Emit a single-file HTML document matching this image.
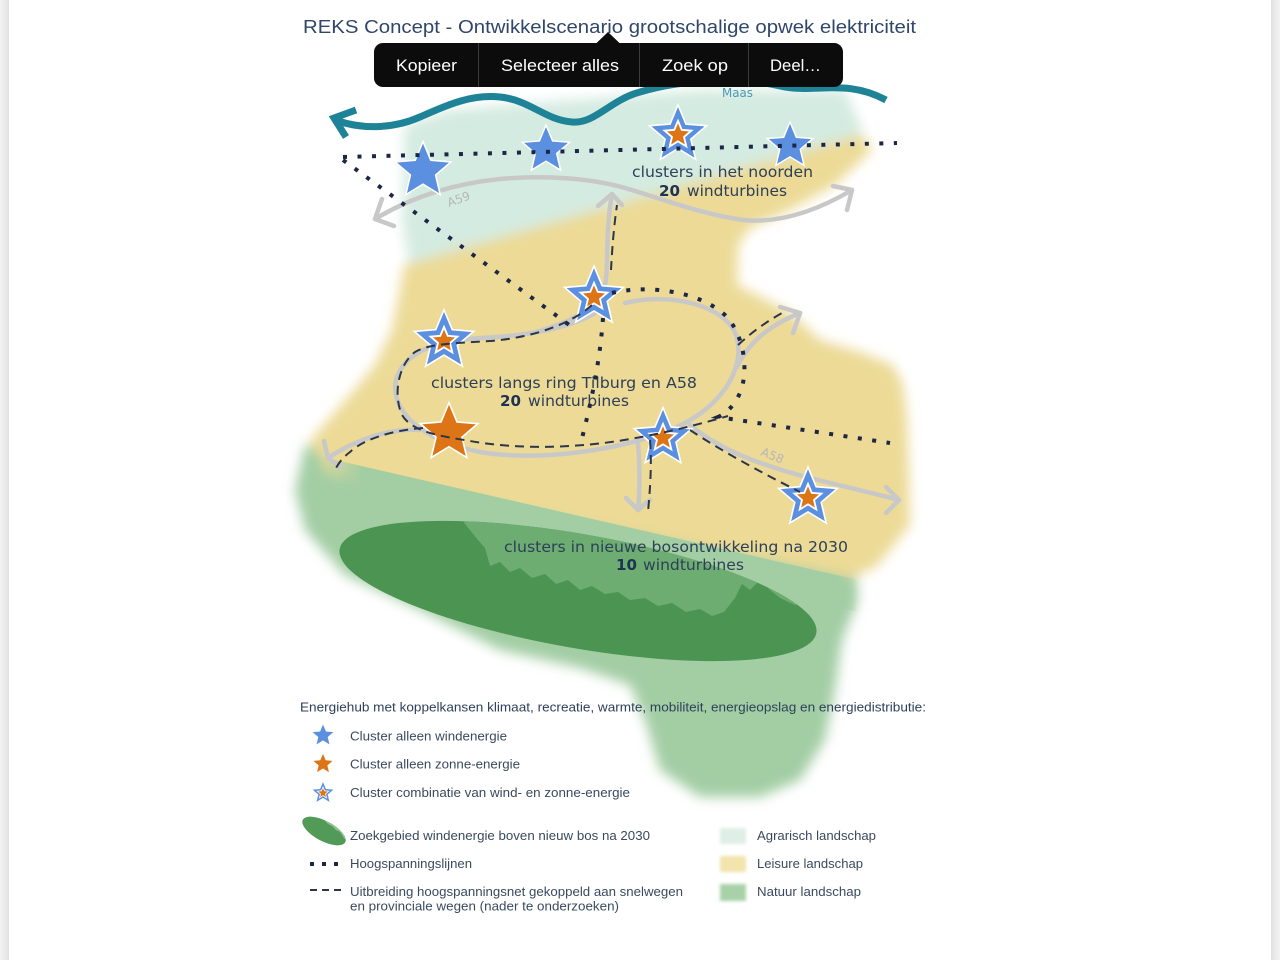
<!DOCTYPE html>
<html><head><meta charset="utf-8"><style>
html,body{margin:0;padding:0;background:#fff;width:1280px;height:960px;overflow:hidden}
svg{display:block}
</style></head><body>
<svg width="1280" height="960" viewBox="0 0 1280 960" xmlns="http://www.w3.org/2000/svg">
<defs>
<filter id="b" x="-20%" y="-20%" width="140%" height="140%"><feGaussianBlur stdDeviation="6"/></filter>
<filter id="b2" x="-30%" y="-30%" width="160%" height="160%"><feGaussianBlur stdDeviation="1.5"/></filter>
<path id="s" d="M0,-30 L7.94,-10.92 L28.53,-9.27 L12.84,4.17 L17.63,24.27 L0,13.5 L-17.63,24.27 L-12.84,4.17 L-28.53,-9.27 L-7.94,-10.92 Z"/>
<clipPath id="ec"><ellipse cx="578" cy="591" rx="242" ry="57" transform="rotate(10 578 591)"/></clipPath>
<clipPath id="lec"><ellipse cx="324" cy="831" rx="24" ry="10" transform="rotate(28 324 831)"/></clipPath>
<linearGradient id="gl" x1="0" x2="1"><stop offset="0" stop-color="#f3f3f3"/><stop offset="1" stop-color="#e2e2e2"/></linearGradient>
<linearGradient id="gr" x1="0" x2="1"><stop offset="0" stop-color="#e2e2e2"/><stop offset="1" stop-color="#f3f3f3"/></linearGradient>
<linearGradient id="gband" gradientUnits="userSpaceOnUse" x1="318" y1="0" x2="858" y2="0">
<stop offset="0" stop-color="#a3cea4" stop-opacity="0"/>
<stop offset="0.08" stop-color="#a3cea4" stop-opacity="1"/>
<stop offset="0.962" stop-color="#a3cea4" stop-opacity="1"/>
<stop offset="1" stop-color="#a3cea4" stop-opacity="0"/>
</linearGradient>
</defs>

<rect x="0" y="0" width="1280" height="960" fill="#fff"/>
<rect x="0" y="0" width="9" height="960" fill="url(#gl)"/>
<rect x="1271" y="0" width="9" height="960" fill="url(#gr)"/>

<!-- landscape regions -->
<g filter="url(#b)">
<path d="M305 445 L855 560 L858 600 L842 640 L835 690 L825 740 L800 780 L760 797 L700 797 L660 770 L645 720 L630 685 L580 668 L500 650 L420 610 L345 575 L305 530 L295 490 Z" fill="#a3cea4"/>
<path d="M405 125 L450 110 L520 104 L600 98 L700 90 L845 90 L858 120 L864 140 L410 268 L402 220 Z" fill="#d4ebe1"/>
<path d="M404 265 L862 134 L872 150 L835 185 L790 210 L750 228 L738 245 L737 285 L755 294 L790 312 L820 340 L860 352 L893 365 L903 385 L907 420 L909 480 L910 525 L876 567 L850 578 L330 474 L310 440 L330 418 L350 395 L375 365 L392 330 L398 300 Z" fill="#ecda96"/>
</g>
<path d="M318 456 L858 580 L858 612 L318 490 Z" fill="url(#gband)"/>

<!-- forest ellipse -->
<ellipse cx="578" cy="591" rx="242" ry="57" transform="rotate(10 578 591)" fill="#4c9452"/>
<g clip-path="url(#ec)">
<path d="M440 500 L462 520 L470 530 L478 540 L485 548 L490 566 L500 562 L510 572 L520 568 L532 578 L545 574 L556 584 L568 580 L580 590 L592 586 L605 594 L618 592 L630 600 L645 598 L658 606 L672 603 L686 612 L700 609 L712 616 L724 612 L735 598 L742 584 L750 590 L760 580 L770 590 L780 598 L795 605 L840 600 L840 480 L440 480 Z" fill="#6dad71"/>
</g>

<!-- gray roads -->
<g fill="none" stroke="#c8c8c8" stroke-width="4.5" stroke-linecap="round" stroke-linejoin="round">
<path d="M375 219 C410 198 450 184 500 179 C545 175 590 178 625 188 C660 198 700 214 743 220 C785 224 825 206 852 190"/>
<polyline points="382,199 375,219 394,226"/>
<polyline points="833,186 852,190 847,210"/>
<path d="M533 333 C560 325 590 315 603 292 C610 275 604 240 612 194"/>
<polyline points="598,206 612,194 622,205"/>
<path d="M600 310 C570 330 520 336 482 338 C440 340 405 350 396 380 C390 410 420 440 480 452 C540 462 620 450 670 430 C720 410 745 370 737 338 C728 305 670 292 625 303"/>
<path d="M737 367 C748 343 770 325 800 313"/>
<polyline points="780,307 800,313 793,333"/>
<path d="M419 430 C390 428 355 440 328 458"/>
<polyline points="324,441 328,458 341,467"/>
<path d="M638 443 C640 470 640 490 638 510"/>
<polyline points="626,498 638,510 650,500"/>
<path d="M690 425 C720 450 760 465 810 478 C850 488 880 495 899 500"/>
<polyline points="886,487 899,500 886,513"/>
</g>
<text x="0" y="0" transform="translate(449,207) rotate(-20)" font-family="DejaVu Sans, sans-serif" font-size="12" fill="#b7b7b7">A59</text>
<text x="0" y="0" transform="translate(760,455) rotate(22)" font-family="DejaVu Sans, sans-serif" font-size="12" fill="#b7b7b7">A58</text>

<!-- stars -->
<g stroke="#fff">
<use href="#s" transform="translate(423,171) scale(0.98)" fill="#5b8fe0" stroke-width="1.6"/>
<use href="#s" transform="translate(546,150) scale(0.83)" fill="#5b8fe0" stroke-width="1.8"/>
<use href="#s" transform="translate(790,146) scale(0.8)" fill="#5b8fe0" stroke-width="1.8"/>

<use href="#s" transform="translate(678,135) scale(1)" fill="#5b8fe0" stroke-width="1.6"/>
<use href="#s" transform="translate(678,135) scale(0.47)" fill="#dd7416" stroke-width="4"/>

<use href="#s" transform="translate(594,297) scale(1.03)" fill="#5b8fe0" stroke-width="1.6"/>
<use href="#s" transform="translate(594,297) scale(0.47)" fill="#dd7416" stroke-width="4"/>

<use href="#s" transform="translate(444,341) scale(1.04)" fill="#5b8fe0" stroke-width="1.6"/>
<use href="#s" transform="translate(444,341) scale(0.47)" fill="#dd7416" stroke-width="4"/>

<use href="#s" transform="translate(449,433) scale(1.01)" fill="#dd7416" stroke-width="1.6"/>

<use href="#s" transform="translate(663,438) scale(1.01)" fill="#5b8fe0" stroke-width="1.6"/>
<use href="#s" transform="translate(663,438) scale(0.47)" fill="#dd7416" stroke-width="4"/>

<use href="#s" transform="translate(808,498) scale(1.03)" fill="#5b8fe0" stroke-width="1.6"/>
<use href="#s" transform="translate(808,498) scale(0.47)" fill="#dd7416" stroke-width="4"/>
</g>

<!-- labels -->
<g font-family="DejaVu Sans, Verdana, sans-serif" font-size="15.5" fill="#2d4058">
<text x="632" y="177" textLength="181" lengthAdjust="spacingAndGlyphs">clusters in het noorden</text>
<text x="659" y="196" textLength="21" lengthAdjust="spacingAndGlyphs" font-weight="bold" fill="#1d3353">20</text>
<text x="687" y="196" textLength="100" lengthAdjust="spacingAndGlyphs">windturbines</text>
<text x="431" y="388" textLength="266" lengthAdjust="spacingAndGlyphs">clusters langs ring Tilburg en A58</text>
<text x="500" y="406" textLength="21" lengthAdjust="spacingAndGlyphs" font-weight="bold" fill="#1d3353">20</text>
<text x="528" y="406" textLength="101" lengthAdjust="spacingAndGlyphs">windturbines</text>
<text x="504" y="552" textLength="344" lengthAdjust="spacingAndGlyphs">clusters in nieuwe bosontwikkeling na 2030</text>
<text x="616" y="570" textLength="21" lengthAdjust="spacingAndGlyphs" font-weight="bold" fill="#1d3353">10</text>
<text x="643" y="570" textLength="101" lengthAdjust="spacingAndGlyphs">windturbines</text>
</g>

<!-- dashed lines -->
<g fill="none" stroke="#2b3748" stroke-width="2" stroke-dasharray="9 6">
<path d="M592 305 C570 325 530 338 490 341 C460 343 430 343 415 352 C398 365 393 395 402 415 C412 432 440 436 470 441 C520 450 580 448 630 439 C670 432 700 424 728 416"/>
<path d="M423 428 C395 430 365 438 350 452 C342 458 338 464 335 470"/>
<path d="M650 440 C652 465 650 490 648 512"/>
<path d="M690 430 C720 450 760 472 800 492"/>
<path d="M611 270 C612 250 614 225 617 205"/>
<path d="M738 345 C752 332 766 322 782 313"/>
</g>

<!-- dotted lines -->
<g fill="none" stroke="#1c2745" stroke-width="4" stroke-dasharray="4 10.5">
<path d="M343 157 L897 143"/>
<path d="M343 160 L572 327"/>
<path d="M603 318 C600 360 592 400 580 446"/>
<path d="M612 293 C650 284 700 292 725 315 C745 335 750 375 738 397 C732 408 725 414 718 417 L890 443"/>
</g>

<!-- river -->
<g fill="none" stroke="#1f8397" stroke-width="7">
<path d="M338 121 C365 130 395 128 420 117 C445 106 470 94 500 97 C530 100 545 120 572 122 C595 124 610 100 640 92 C680 80 740 76 780 86 C815 94 845 78 886 100"/>
<polyline points="356,110 334,118 346,137" stroke-linejoin="miter"/>
</g>
<text x="722" y="97" textLength="31" lengthAdjust="spacingAndGlyphs" font-family="DejaVu Sans, sans-serif" font-size="12.5" fill="#4a9ab2">Maas</text>

<!-- legend -->
<g font-family="Liberation Sans, Arial, sans-serif" font-size="13" fill="#3a4a5e">
<text x="300" y="711.5" textLength="626" lengthAdjust="spacingAndGlyphs" fill="#2f405a">Energiehub met koppelkansen klimaat, recreatie, warmte, mobiliteit, energieopslag en energiedistributie:</text>
<text x="350" y="740.5" textLength="157" lengthAdjust="spacingAndGlyphs">Cluster alleen windenergie</text>
<text x="350" y="768.5" textLength="170" lengthAdjust="spacingAndGlyphs">Cluster alleen zonne-energie</text>
<text x="350" y="797" textLength="280" lengthAdjust="spacingAndGlyphs">Cluster combinatie van wind- en zonne-energie</text>
<text x="350" y="840" textLength="300" lengthAdjust="spacingAndGlyphs">Zoekgebied windenergie boven nieuw bos na 2030</text>
<text x="350" y="868" textLength="122" lengthAdjust="spacingAndGlyphs">Hoogspanningslijnen</text>
<text x="350" y="896" textLength="333" lengthAdjust="spacingAndGlyphs">Uitbreiding hoogspanningsnet gekoppeld aan snelwegen</text>
<text x="350" y="910.5" textLength="269" lengthAdjust="spacingAndGlyphs">en provinciale wegen (nader te onderzoeken)</text>
<text x="757" y="840" textLength="119" lengthAdjust="spacingAndGlyphs">Agrarisch landschap</text>
<text x="757" y="868" textLength="106" lengthAdjust="spacingAndGlyphs">Leisure landschap</text>
<text x="757" y="896" textLength="104" lengthAdjust="spacingAndGlyphs">Natuur landschap</text>
</g>
<g stroke="#fff">
<use href="#s" transform="translate(323,735.5) scale(0.4)" fill="#5b8fe0" stroke-width="2"/>
<use href="#s" transform="translate(323,764) scale(0.37)" fill="#dd7416" stroke-width="2"/>
<use href="#s" transform="translate(323,793) scale(0.4)" fill="#5b8fe0" stroke-width="2"/>
<use href="#s" transform="translate(323,793) scale(0.2)" fill="#dd7416" stroke-width="4"/>
</g>
<ellipse cx="324" cy="831" rx="24" ry="10" transform="rotate(28 324 831)" fill="#529a58"/>
<g clip-path="url(#lec)"><path d="M318 812 L350 812 L350 845 L344 838 L340 832 L336 830 L332 826 L328 824 L324 820 Z" fill="#8cc290"/></g>
<g fill="#1c2745"><rect x="310" y="862" width="4" height="4"/><rect x="322" y="862" width="4" height="4"/><rect x="334" y="862" width="4" height="4"/></g>
<path d="M310 890 L343 890" stroke="#2b3748" stroke-width="2" stroke-dasharray="7 5" fill="none"/>
<g filter="url(#b2)">
<rect x="720" y="828" width="26" height="16" fill="#dfefe7"/>
<rect x="720" y="856" width="26" height="16" fill="#f2e4ab"/>
<rect x="720" y="884" width="26" height="17" fill="#a8d1a9"/>
</g>

<!-- title -->
<text x="303" y="33" textLength="613" lengthAdjust="spacingAndGlyphs" font-family="Liberation Sans, Arial, sans-serif" font-size="18.5" fill="#30466a">REKS Concept - Ontwikkelscenario grootschalige opwek elektriciteit</text>

<!-- popup -->
<path d="M596 43.5 L608 32 L620 43.5 Z" fill="#0c0c0c"/>
<rect x="374" y="43" width="469" height="44" rx="9" fill="#0c0c0c"/>
<g stroke="#3c3c3c" stroke-width="1"><line x1="478.5" y1="43" x2="478.5" y2="87"/><line x1="639.5" y1="43" x2="639.5" y2="87"/><line x1="748.5" y1="43" x2="748.5" y2="87"/></g>
<g font-family="Liberation Sans, Arial, sans-serif" font-size="17" fill="#fff">
<text x="396" y="71" textLength="61" lengthAdjust="spacingAndGlyphs">Kopieer</text>
<text x="501" y="71" textLength="118" lengthAdjust="spacingAndGlyphs">Selecteer alles</text>
<text x="662" y="71" textLength="66" lengthAdjust="spacingAndGlyphs">Zoek op</text>
<text x="770" y="71" textLength="51" lengthAdjust="spacingAndGlyphs">Deel…</text>
</g>
</svg>
</body></html>
